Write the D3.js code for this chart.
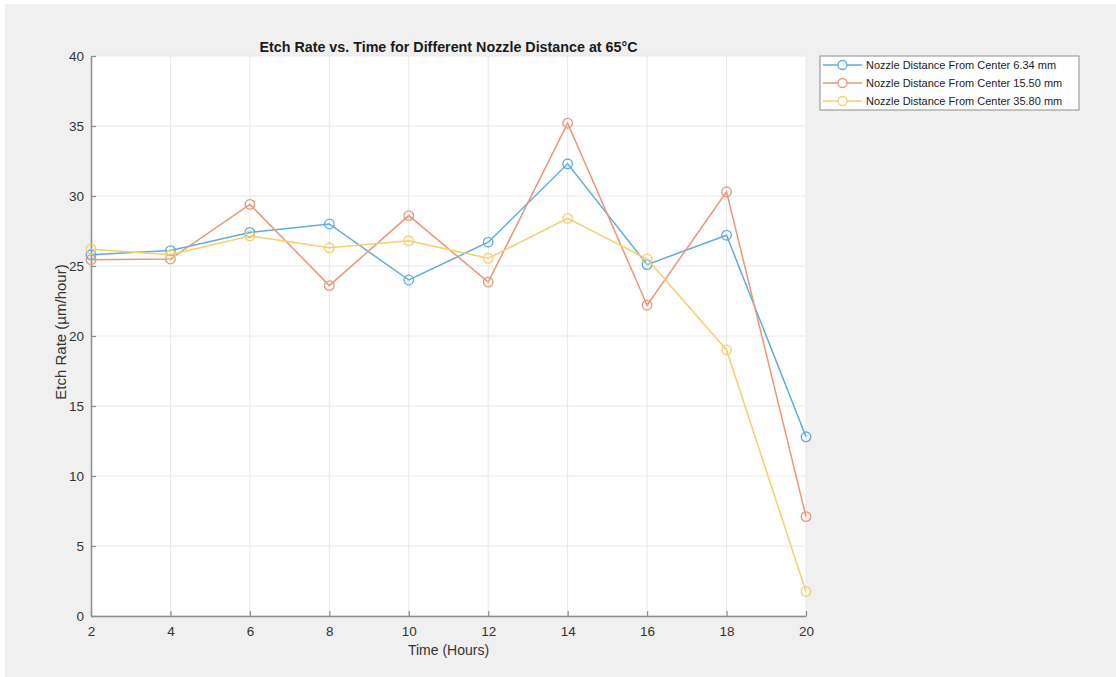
<!DOCTYPE html>
<html>
<head>
<meta charset="utf-8">
<script src="https://cdn.jsdelivr.net/npm/d3@7"></script>
<style>
  html, body { margin: 0; padding: 0; background: #ffffff; }
  svg { display: block; font-family: "Liberation Sans", Arial, Helvetica, sans-serif; }
</style>
</head>
<body>
<svg id="chart" width="1116" height="677"></svg>
<script>
// Etch rate measurements at 65°C, sampled every two hours
const hours = [2, 4, 6, 8, 10, 12, 14, 16, 18, 20];
const rate634 = [25.8, 26.1, 27.4, 28.0, 24.0, 26.7, 32.3, 25.1, 27.2, 12.8];
const rate1550 = [25.45, 25.5, 29.4, 23.6, 28.6, 23.85, 35.2, 22.2, 30.3, 7.1];
const rate3580 = [26.2, 25.8, 27.15, 26.3, 26.8, 25.55, 28.4, 25.5, 19.0, 1.75];
const seriesNames = [
  "Nozzle Distance From Center 6.34 mm",
  "Nozzle Distance From Center 15.50 mm",
  "Nozzle Distance From Center 35.80 mm"
];
const xTicks = [2, 4, 6, 8, 10, 12, 14, 16, 18, 20];
const yTicks = [0, 5, 10, 15, 20, 25, 30, 35, 40];

const colors = ["#5fade0", "#ea9778", "#f4cf6c"];
const series = [rate634, rate1550, rate3580].map((vals, i) => ({
  name: seriesNames[i],
  color: colors[i],
  points: hours.map((h, j) => ({ x: h, y: vals[j] }))
}));

const svg = d3.select("#chart");
const W = 1116, H = 677;

// figure background
svg.append("rect").attr("x", 5).attr("y", 4).attr("width", W - 5).attr("height", H - 4)
  .attr("fill", "#f0f0f0");

const plot = { left: 91, right: 806, top: 56, bottom: 616 };

const x = d3.scaleLinear().domain([2, 20]).range([plot.left, plot.right]);
const y = d3.scaleLinear().domain([0, 40]).range([plot.bottom, plot.top]);

// axes area
svg.append("rect")
  .attr("x", plot.left).attr("y", plot.top)
  .attr("width", plot.right - plot.left).attr("height", plot.bottom - plot.top)
  .attr("fill", "#ffffff");

// grid
const grid = svg.append("g");
grid.selectAll("line.gx").data(xTicks).join("line")
  .attr("x1", d => x(d)).attr("x2", d => x(d))
  .attr("y1", plot.top).attr("y2", plot.bottom)
  .attr("stroke", "#e8e8e8").attr("stroke-width", 1);
grid.selectAll("line.gy").data(yTicks).join("line")
  .attr("x1", plot.left).attr("x2", plot.right)
  .attr("y1", d => y(d)).attr("y2", d => y(d))
  .attr("stroke", "#e8e8e8").attr("stroke-width", 1);

// axes with inward ticks
const axisColor = "#8c8c8c";
const xAxis = svg.append("g").attr("transform", `translate(0,${plot.bottom})`)
  .call(d3.axisBottom(x).tickValues(xTicks).tickSizeInner(-5).tickSizeOuter(0).tickPadding(10));
const yAxis = svg.append("g").attr("transform", `translate(${plot.left},0)`)
  .call(d3.axisLeft(y).tickValues(yTicks).tickSizeInner(-5).tickSizeOuter(0).tickPadding(7));
[xAxis, yAxis].forEach(a => {
  a.select(".domain").attr("stroke", axisColor).attr("stroke-width", 1.5);
  a.selectAll(".tick line").attr("stroke", axisColor).attr("stroke-width", 1.2);
  a.selectAll(".tick text").attr("fill", "#333333")
    .style("font-size", "13.5px").style("font-family", "'Liberation Sans', Arial, sans-serif");
});

// series lines and markers
const line = d3.line().x(d => x(d.x)).y(d => y(d.y));
series.forEach(s => {
  const g = svg.append("g");
  g.append("path").datum(s.points)
    .attr("d", line).attr("fill", "none")
    .attr("stroke", s.color).attr("stroke-width", 1.5);
  g.selectAll("circle").data(s.points).join("circle")
    .attr("cx", d => x(d.x)).attr("cy", d => y(d.y)).attr("r", 4.8)
    .attr("fill", "none").attr("stroke", s.color).attr("stroke-width", 1.3);
});

// title and labels
svg.append("text")
  .attr("x", (plot.left + plot.right) / 2).attr("y", 52)
  .attr("text-anchor", "middle").attr("font-weight", "bold")
  .attr("font-size", 14.3).attr("fill", "#1a1a1a")
  .text("Etch Rate vs. Time for Different Nozzle Distance at 65°C");

svg.append("text")
  .attr("x", (plot.left + plot.right) / 2).attr("y", 655)
  .attr("text-anchor", "middle").attr("font-size", 14).attr("fill", "#333")
  .text("Time (Hours)");

svg.append("text")
  .attr("transform", `translate(66,332) rotate(-90)`)
  .attr("text-anchor", "middle").attr("font-size", 15).attr("fill", "#333")
  .text("Etch Rate (µm/hour)");

// legend
const leg = svg.append("g").attr("transform", "translate(820,56)");
leg.append("rect").attr("width", 259).attr("height", 54)
  .attr("fill", "#ffffff").attr("stroke", "#8c8c8c").attr("stroke-width", 1);
series.forEach((s, i) => {
  const row = leg.append("g").attr("transform", `translate(0,${9 + i * 18})`);
  row.append("line").attr("x1", 3).attr("x2", 42).attr("y1", 0).attr("y2", 0)
    .attr("stroke", s.color).attr("stroke-width", 1.5);
  row.append("circle").attr("cx", 22.5).attr("cy", 0).attr("r", 4.5)
    .attr("fill", "#fff").attr("stroke", s.color).attr("stroke-width", 1.3);
  row.append("text").attr("x", 46).attr("y", 4)
    .attr("font-size", 11).attr("fill", "#222").text(s.name);
});
</script>
</body>
</html>
